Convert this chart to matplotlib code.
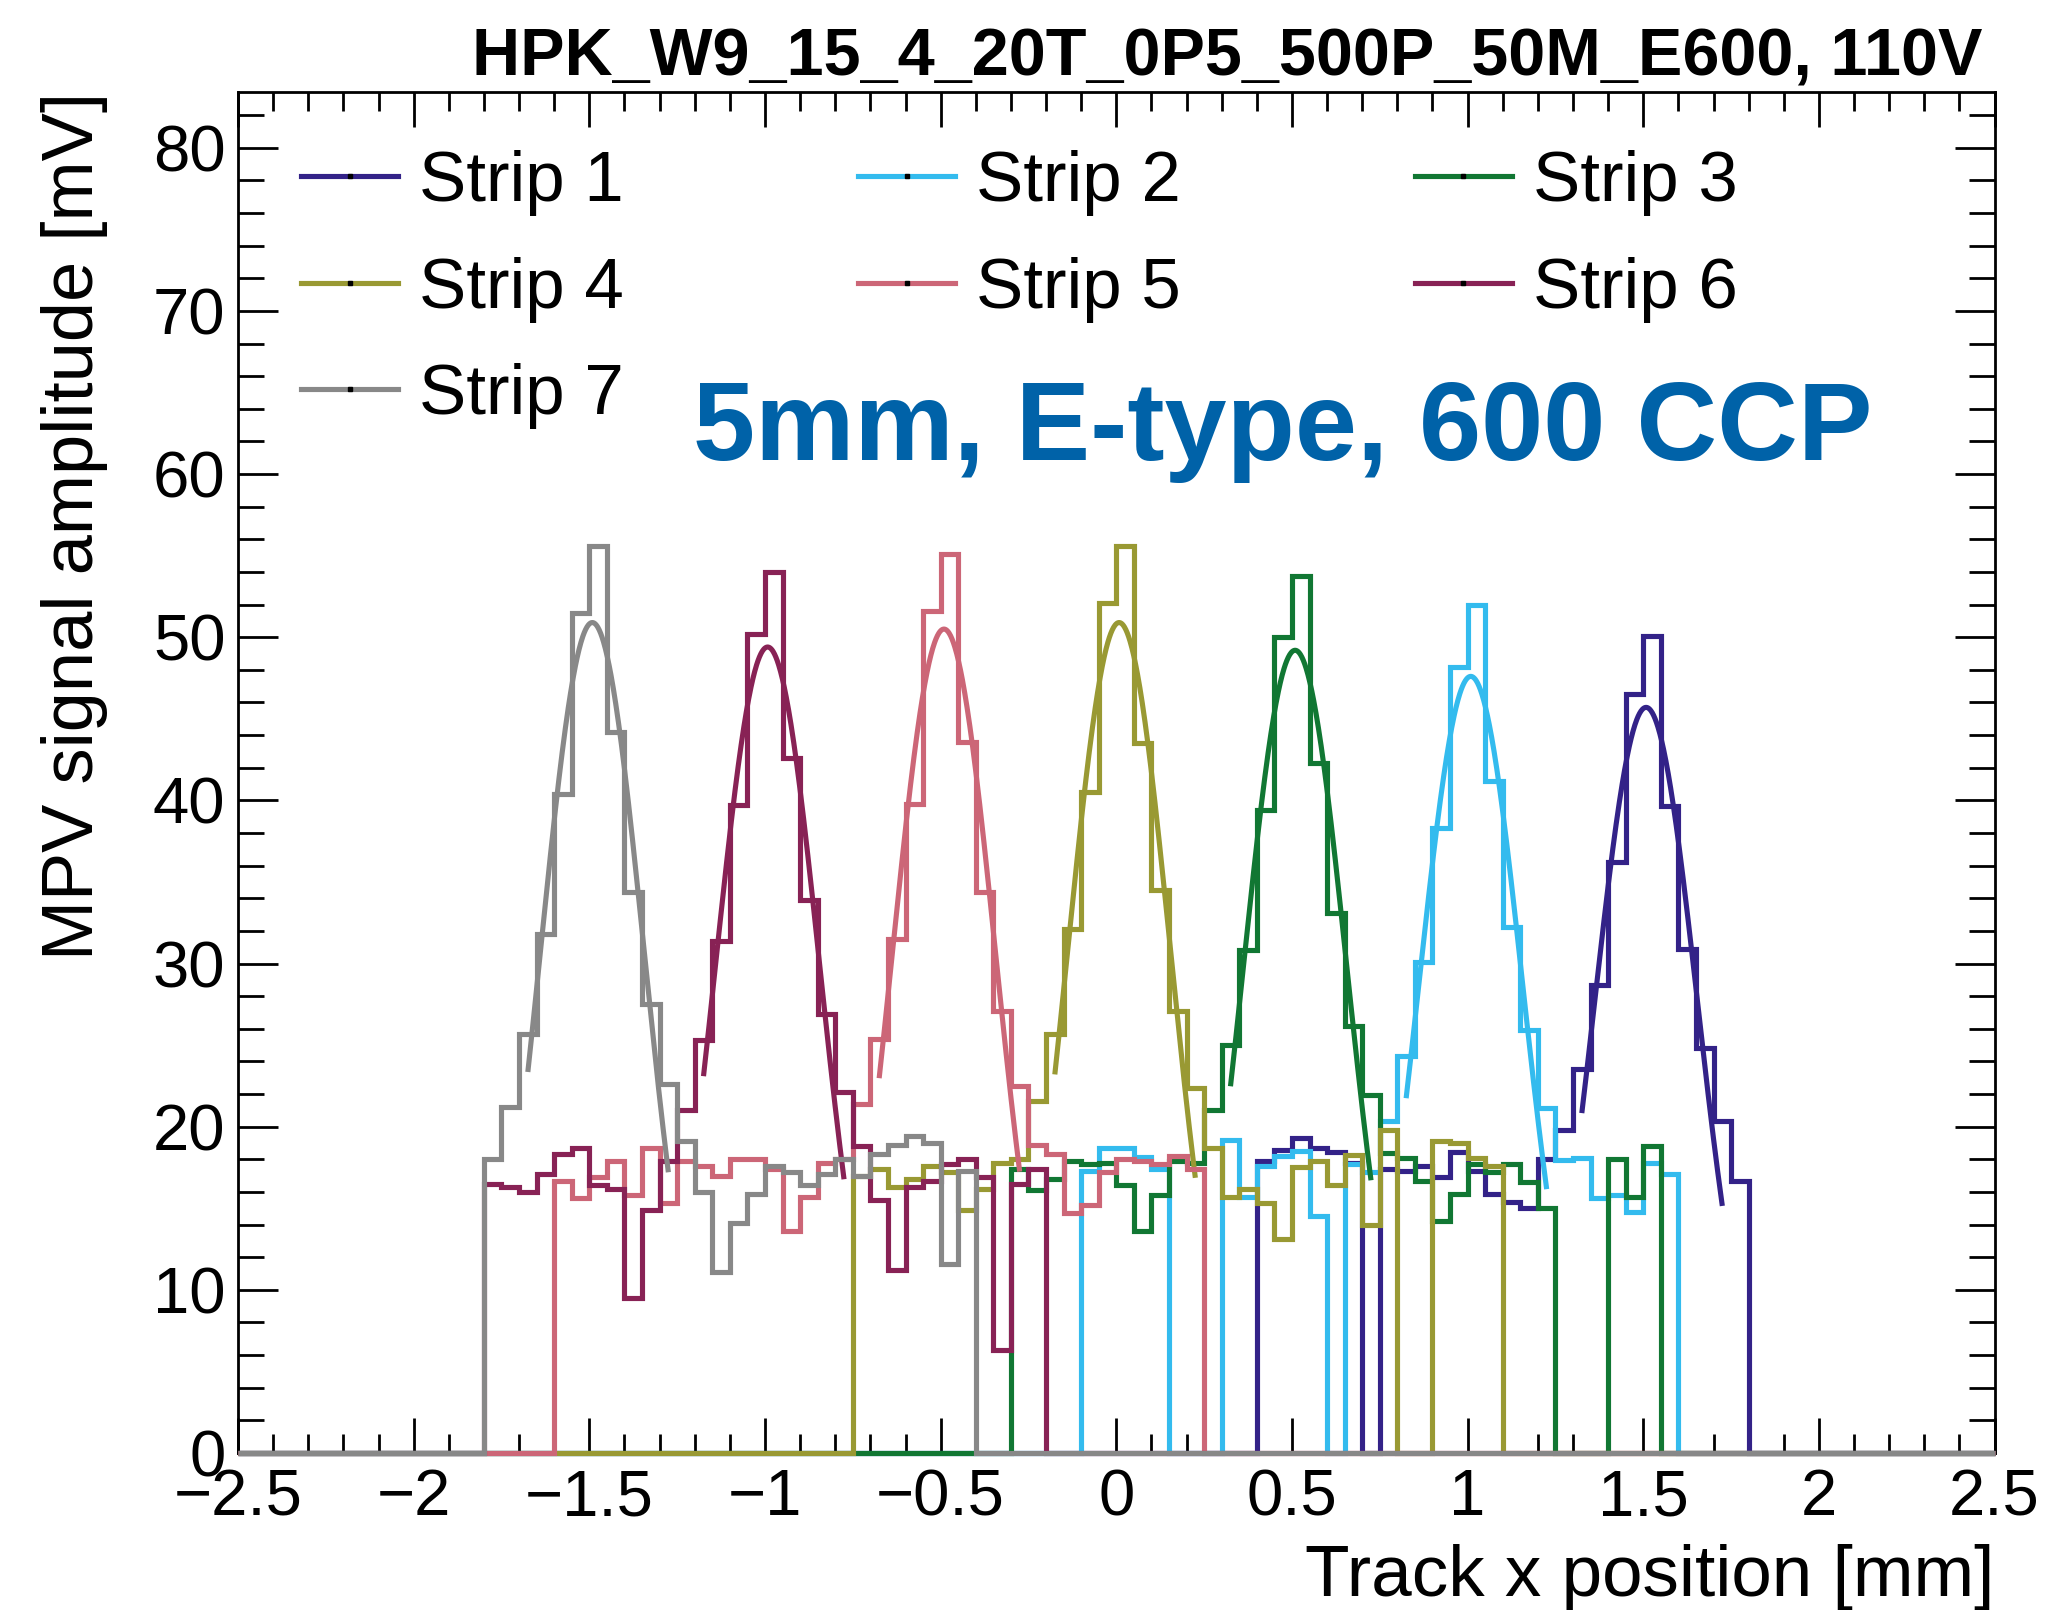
import numpy as np
import matplotlib
matplotlib.use("Agg")
import matplotlib.pyplot as plt
from matplotlib.ticker import MultipleLocator, FuncFormatter
from matplotlib.lines import Line2D

plt.rcParams['font.family'] = ['Liberation Sans', 'DejaVu Sans']

# ---------------- data ----------------
title_text = "HPK_W9_15_4_20T_0P5_500P_50M_E600, 110V"
sensor_text = "5mm, E-type, 600 CCP"
x_label = "Track x position [mm]"
y_label = "MPV signal amplitude [mV]"

bin_width = 0.05
x_range = (-2.5, 2.5)

strip_labels = ["Strip 1", "Strip 2", "Strip 3", "Strip 4", "Strip 5", "Strip 6", "Strip 7"]
strip_colors = ["#332288", "#33BBEE", "#117733", "#999933", "#CC6677", "#882255", "#888888"]
# lower edge of first filled bin of each strip [mm]
strip_first_bin = [0.40, -0.10, -0.30, -0.75, -1.60, -1.80, -1.80]

strip1_mpv = [17.9, 18.6, 19.3, 18.7, 18.45, 17.8, 0, 17.4, 17.3, 17.6, 16.9, 18.45, 17.3, 15.9,
              15.4, 15.0, 18.0, 19.8, 23.55, 28.7, 36.25, 46.5, 50.1, 39.65, 30.9, 24.8, 20.35, 16.7]
strip2_mpv = [17.3, 18.7, 18.7, 18.15, 17.4, 0, 0, 0, 19.2, 15.7, 17.6, 18.2, 18.5, 14.5, 0, 17.7,
              17.2, 20.35, 24.35, 30.1, 38.3, 48.2, 52.0, 41.2, 32.25, 25.9, 21.15, 17.95, 18.1,
              15.65, 15.8, 14.8, 17.8, 17.1]
strip3_mpv = [17.4, 16.1, 16.8, 17.9, 17.7, 17.8, 16.4, 13.6, 15.8, 17.9, 17.8, 21.0, 25.0, 30.8,
              39.4, 50.0, 53.75, 42.3, 33.1, 26.2, 21.95, 18.4, 18.1, 16.7, 14.2, 15.9, 17.7, 17.2,
              17.7, 16.6, 15.0, 0, 0, 0, 18.0, 15.7, 18.8]
strip4_mpv = [17.0, 17.4, 16.3, 16.8, 17.6, 17.2, 14.9, 16.2, 17.8, 18.0, 21.6, 25.7, 32.1, 40.5,
              52.1, 55.6, 43.5, 34.5, 27.1, 22.35, 18.7, 15.7, 16.2, 15.3, 13.1, 17.5, 17.9, 16.4,
              18.25, 14.0, 19.8, 0, 0, 19.1, 19.0, 18.1, 17.6]
strip5_mpv = [16.7, 15.6, 16.9, 17.9, 15.8, 18.7, 15.3, 17.9, 17.6, 17.0, 18.0, 18.0, 17.4, 13.6,
              15.7, 17.8, 18.0, 21.4, 25.4, 31.5, 39.8, 51.6, 55.1, 43.6, 34.4, 27.1, 22.5, 18.9,
              18.3, 14.7, 15.2, 17.2, 18.0, 17.9, 17.7, 18.2, 17.4]
strip6_mpv = [16.5, 16.3, 16.0, 17.1, 18.3, 18.7, 16.4, 16.2, 9.5, 14.9, 17.9, 21.0, 25.3, 31.4,
              39.7, 50.2, 54.0, 42.6, 33.9, 26.9, 22.1, 18.8, 15.5, 11.2, 16.3, 16.7, 17.7, 18.0,
              16.9, 6.3, 16.5, 17.4]
strip7_mpv = [18.0, 21.2, 25.7, 31.8, 40.4, 51.5, 55.6, 44.2, 34.4, 27.5, 22.6, 19.1, 16.0, 11.1,
              14.1, 15.9, 17.6, 17.2, 16.4, 17.1, 18.0, 17.0, 18.3, 18.9, 19.4, 19.0, 11.6, 17.3]
strip_mpv = [strip1_mpv, strip2_mpv, strip3_mpv, strip4_mpv, strip5_mpv, strip6_mpv, strip7_mpv]

# Gaussian fits (amplitude, mean, sigma, fit range)
fit_amp = [45.7, 47.6, 49.2, 50.9, 50.5, 49.4, 50.9]
fit_mean = [1.508, 1.009, 0.509, 0.008, -0.4905, -0.9925, -1.4915]
fit_sigma = [0.146, 0.147, 0.147, 0.146, 0.147, 0.148, 0.147]
fit_lo = [1.325, 0.825, 0.325, -0.175, -0.675, -1.175, -1.675]
fit_hi = [1.725, 1.225, 0.725, 0.225, -0.275, -0.775, -1.275]

x_major, x_minor = 0.5, 0.1
y_major, y_minor = 10, 2
y_max = 83.4

# ---------------- figure ----------------
W, H = 2050, 1610
fig = plt.figure(figsize=(W / 100, H / 100), dpi=100)
ax_l, ax_r, ax_t, ax_b = 238, 1994.6, 92.3, 1453
ax = fig.add_axes([ax_l / W, (H - ax_b) / H, (ax_r - ax_l) / W, (ax_b - ax_t) / H])

n_bins = int(round((x_range[1] - x_range[0]) / bin_width))
edges = np.linspace(x_range[0], x_range[1], n_bins + 1)

lw = 3.7
for i, (vals, start, col) in enumerate(zip(strip_mpv, strip_first_bin, strip_colors)):
    full = np.zeros(n_bins)
    k0 = int(round((start - x_range[0]) / bin_width))
    full[k0:k0 + len(vals)] = vals
    ax.stairs(full, edges, baseline=None, color=col, lw=lw, zorder=3 + 2 * i, clip_on=False)
    xs = np.linspace(fit_lo[i], fit_hi[i], 300)
    ys = fit_amp[i] * np.exp(-0.5 * ((xs - fit_mean[i]) / fit_sigma[i]) ** 2)
    ax.plot(xs, ys, color=col, lw=lw, zorder=4 + 2 * i, solid_capstyle='butt')

ax.set_xlim(*x_range)
ax.set_ylim(0, y_max)
ax.xaxis.set_major_locator(MultipleLocator(x_major))
ax.xaxis.set_minor_locator(MultipleLocator(x_minor))
ax.yaxis.set_major_locator(MultipleLocator(y_major))
ax.yaxis.set_minor_locator(MultipleLocator(y_minor))
fmt = FuncFormatter(lambda v, p: ("%g" % v).replace("-", "\u2212"))
ax.xaxis.set_major_formatter(fmt)
ax.yaxis.set_major_formatter(fmt)

for sp in ax.spines.values():
    sp.set_linewidth(2.0)

ax.tick_params(which='both', direction='in', top=True, right=True, width=2.0, labelsize=47)
ax.tick_params(axis='x', which='major', length=25, pad=11)
ax.tick_params(axis='x', which='minor', length=14)
ax.tick_params(axis='y', which='major', length=29, pad=9)
ax.tick_params(axis='y', which='minor', length=19)

ax.set_xlabel(x_label, fontsize=52.5, loc='right')
ax.xaxis.set_label_coords(1.0, -0.067)
ax.set_ylabel(y_label, fontsize=52, loc='top')
ax.yaxis.set_label_coords(-0.074, 1.0)

# legend
handles = [Line2D([], [], color=c, lw=lw, marker='s', markersize=2.5,
                  markerfacecolor='k', markeredgecolor='k') for c in strip_colors]
order = [0, 3, 6, 1, 4, 2, 5]
ax.legend([handles[j] for j in order], [strip_labels[j] for j in order],
          ncol=3, loc='upper left', bbox_to_anchor=(0.0357, 0.9575),
          fontsize=51, frameon=False, handlelength=1.38, handletextpad=0.29,
          columnspacing=3.30, labelspacing=0.57, borderpad=0, borderaxespad=0, numpoints=1)

fig.text(1983 / W, (H - 76) / H, title_text, ha='right', va='baseline',
         fontsize=48, fontweight='bold')
fig.text(693 / W, (H - 460) / H, sensor_text, ha='left', va='baseline',
         fontsize=80.4, fontweight='bold', color='#0062A8')

fig.savefig("out.png", dpi=100)
